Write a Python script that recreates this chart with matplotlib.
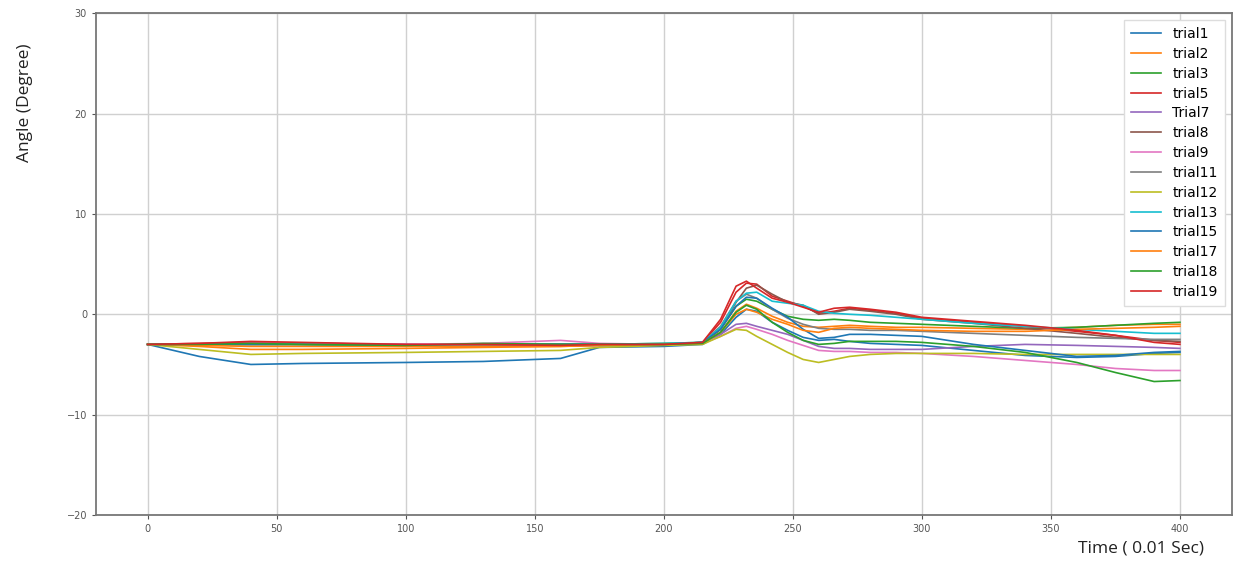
import matplotlib
matplotlib.use("Agg")
import matplotlib.pyplot as plt

# sample times (0.01 s)
t = [0, 20, 40, 60, 100, 130, 160, 175, 200, 215, 222, 228, 232, 236, 242, 248,
     254, 260, 266, 272, 280, 290, 300, 320, 340, 360, 375, 390, 400]

labels = ['trial1', 'trial2', 'trial3', 'trial5', 'Trial7', 'trial8', 'trial9',
          'trial11', 'trial12', 'trial13', 'trial15', 'trial17', 'trial18', 'trial19']

trial1 = [-3, -4.2, -5.0, -4.9, -4.8, -4.7, -4.4, -3.3, -3.2, -3.0, -2.0, -0.3, 0.5, 0.3, -0.8, -1.6,
          -2.3, -2.6, -2.5, -2.7, -2.9, -3.0, -3.1, -3.6, -4.1, -4.3, -4.2, -3.9, -3.8]
trial2 = [-3, -3.2, -3.5, -3.5, -3.4, -3.3, -3.2, -3.1, -3.0, -2.9, -1.8, 0.3, 1.0, 0.6, -0.2, -0.8,
          -1.2, -1.3, -1.2, -1.1, -1.2, -1.3, -1.3, -1.4, -1.5, -1.3, -1.1, -1.0, -1.0]
trial3 = [-3, -3.0, -3.0, -3.0, -3.1, -3.0, -3.0, -3.0, -2.9, -2.8, -1.5, 0.8, 1.5, 1.3, 0.5, -0.2,
          -0.5, -0.6, -0.5, -0.6, -0.8, -0.9, -1.0, -1.2, -1.4, -1.3, -1.1, -0.9, -0.8]
trial5 = [-3, -2.9, -2.8, -2.9, -3.0, -3.0, -3.1, -3.1, -3.0, -2.8, -0.8, 2.2, 3.1, 3.0, 1.8, 1.3,
          0.8, 0.1, 0.3, 0.6, 0.4, 0.1, -0.4, -0.8, -1.2, -1.7, -2.1, -2.6, -2.8]
trial7 = [-3, -3.0, -2.9, -2.9, -3.0, -3.1, -3.1, -3.1, -3.0, -2.9, -2.0, -1.0, -0.9, -1.2, -1.6, -2.0,
          -2.6, -3.2, -3.4, -3.4, -3.5, -3.5, -3.5, -3.2, -3.0, -3.1, -3.2, -3.3, -3.4]
trial8 = [-3, -3.0, -3.0, -3.0, -3.1, -3.0, -3.0, -3.0, -3.0, -2.9, -1.5, 1.2, 2.6, 2.9, 2.0, 1.2,
          0.9, 0.0, 0.2, 0.5, 0.3, 0.0, -0.5, -0.9, -1.4, -1.9, -2.3, -2.6, -2.7]
trial9 = [-3, -3.0, -2.9, -2.9, -3.0, -2.9, -2.6, -2.9, -3.0, -2.9, -2.2, -1.4, -1.2, -1.5, -2.0, -2.6,
          -3.1, -3.6, -3.7, -3.7, -3.8, -3.8, -3.9, -4.2, -4.6, -5.0, -5.4, -5.6, -5.6]
trial11 = [-3, -3.0, -3.0, -3.0, -3.1, -3.0, -3.0, -3.0, -3.0, -2.8, -1.2, 1.3, 2.0, 1.6, 0.5, -0.4,
           -1.0, -1.4, -1.5, -1.5, -1.6, -1.6, -1.7, -1.9, -2.1, -2.3, -2.4, -2.5, -2.5]
trial12 = [-3, -3.5, -4.0, -3.9, -3.8, -3.7, -3.6, -3.3, -3.1, -3.0, -2.2, -1.5, -1.6, -2.2, -3.0, -3.8,
           -4.5, -4.8, -4.5, -4.2, -4.0, -3.9, -3.9, -3.9, -4.0, -4.0, -4.0, -4.0, -4.0]
trial13 = [-3, -3.0, -3.0, -3.0, -3.1, -3.0, -3.0, -3.0, -2.9, -2.8, -1.3, 1.3, 2.1, 2.2, 1.3, 1.1,
           0.9, 0.3, 0.1, 0.0, -0.1, -0.3, -0.5, -0.9, -1.2, -1.5, -1.7, -1.9, -1.9]
trial15 = [-3, -3.0, -3.0, -3.0, -3.1, -3.0, -3.0, -3.0, -3.0, -2.8, -1.5, 0.8, 1.7, 1.6, 0.6, -0.3,
           -1.5, -2.4, -2.3, -2.0, -2.0, -2.1, -2.2, -3.0, -3.6, -4.2, -4.1, -3.8, -3.7]
trial17 = [-3, -3.1, -3.2, -3.2, -3.2, -3.2, -3.2, -3.1, -3.0, -2.9, -1.8, 0.0, 0.5, 0.2, -0.5, -1.0,
           -1.6, -1.8, -1.4, -1.3, -1.4, -1.5, -1.6, -1.7, -1.7, -1.5, -1.4, -1.3, -1.2]
trial18 = [-3, -3.0, -2.9, -3.0, -3.1, -2.9, -3.0, -3.0, -3.0, -2.9, -1.8, 0.2, 0.9, 0.5, -0.8, -1.8,
           -2.6, -3.0, -2.9, -2.7, -2.7, -2.7, -2.8, -3.2, -3.8, -4.8, -5.8, -6.7, -6.6]
trial19 = [-3, -2.9, -2.7, -2.8, -3.0, -3.0, -3.1, -3.0, -3.0, -2.8, -0.5, 2.8, 3.3, 2.6, 1.6, 1.2,
           0.7, 0.2, 0.6, 0.7, 0.5, 0.2, -0.3, -0.7, -1.1, -1.6, -2.1, -2.8, -3.0]

series = [trial1, trial2, trial3, trial5, trial7, trial8, trial9,
          trial11, trial12, trial13, trial15, trial17, trial18, trial19]

fig = plt.figure(figsize=(12.44, 5.71), dpi=100)
ax = fig.add_axes([0.0772, 0.098, 0.9128, 0.879])

for y, lab in zip(series, labels):
    ax.plot(t, y, linewidth=1.2, label=lab)

ax.set_xlim(-20, 420)
ax.set_ylim(-20, 30)
ax.set_xticks([0, 50, 100, 150, 200, 250, 300, 350, 400])
ax.set_yticks([-20, -10, 0, 10, 20, 30])
ax.grid(True, color='#d0d0d0', linewidth=1)
ax.tick_params(labelsize=7, colors='#555555', length=3)
for s in ax.spines.values():
    s.set_color('#777777')
    s.set_linewidth(1.3)

ax.legend(loc='upper right', fontsize=10, handlelength=2.2, labelspacing=0.42,
          borderpad=0.5, framealpha=1, edgecolor='#dddddd', fancybox=False)

fig.text(0.02, 0.82, 'Angle (Degree)', rotation=90, fontsize=12.5,
         ha='center', va='center', family='Open Sans', color='#222222')
fig.text(0.917, 0.04, 'Time ( 0.01 Sec)', fontsize=12.5, ha='center', va='center',
         family='Open Sans', color='#222222')

fig.savefig('out.png', dpi=100)
